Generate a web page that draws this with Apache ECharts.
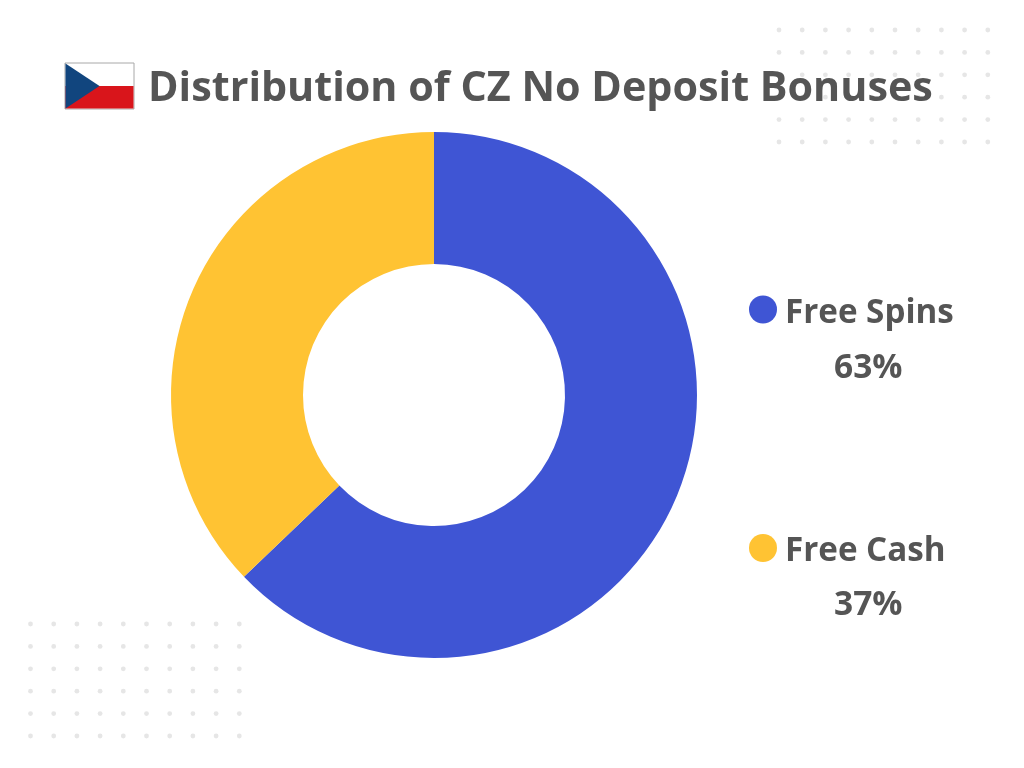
<!DOCTYPE html>
<html>
<head>
<meta charset="utf-8">
<style>html,body{margin:0;padding:0;background:#fff}#c{width:1024px;height:768px}</style>
<script src="https://cdn.jsdelivr.net/npm/echarts@6/dist/echarts.min.js"></script>
</head>
<body>
<div id="c"></div>
<script>
const titleText = 'Distribution of CZ No Deposit Bonuses';
const categories = ['Free Spins', 'Free Cash'];
const sliceValues = [62.85, 37.15];
const shareLabels = ['63%', '37%'];
const colors = ['#3f55d4', '#ffc333'];
const textColor = '#555555';
const font = '"Open Sans", sans-serif';

const chart = echarts.init(document.getElementById('c'), null, {renderer: 'canvas'});

function dotGrid(x0, y0) {
  const out = [];
  for (let r = 0; r < 6; r++) for (let c = 0; c < 10; c++) {
    out.push({type: 'circle', silent: true, z: -1,
      shape: {cx: x0 + c * 23.2, cy: y0 + r * 22.4, r: 2.4},
      style: {fill: '#e6e6e6'}});
  }
  return out;
}

const flag = [
  {type: 'rect', shape: {x: 65, y: 63, width: 69, height: 46}, style: {fill: '#ffffff', stroke: '#a8a8a8', lineWidth: 1}},
  {type: 'rect', shape: {x: 65.5, y: 86, width: 68, height: 22.5}, style: {fill: '#d9151b'}},
  {type: 'polygon', shape: {points: [[65.5, 63.5], [99.5, 86], [65.5, 108.5]]}, style: {fill: '#11457e'}}
];

const pctLabels = shareLabels.map((v, i) => ({
  type: 'text', left: 834, top: i === 0 ? 351 : 588,
  style: {text: v, fill: textColor, font: 'bold 33.5px ' + font}
}));

chart.setOption({
  animation: false,
  backgroundColor: '#ffffff',
  title: {
    text: titleText, left: 143, top: 64,
    textStyle: {fontFamily: font, fontWeight: 'bold', fontSize: 41.3, color: textColor}
  },
  legend: {
    orient: 'vertical', left: 749, top: 295.5,
    data: categories, icon: 'circle',
    itemWidth: 28, itemHeight: 28, itemGap: 204, padding: 0,
    selectedMode: false,
    formatter: '{a|{name}}',
    textStyle: {
      rich: {a: {fontFamily: font, fontWeight: 'bold', fontSize: 33.2, color: textColor, padding: [8, 0, 0, 3]}}
    }
  },
  series: [{
    type: 'pie',
    center: [434, 395], radius: [131, 263],
    startAngle: 90, clockwise: true,
    label: {show: false}, labelLine: {show: false},
    silent: true,
    data: categories.map((n, i) => ({name: n, value: sliceValues[i], itemStyle: {color: colors[i]}}))
  }],
  graphic: [...dotGrid(779, 30), ...dotGrid(30.5, 624), ...flag, ...pctLabels]
});
</script>
</body>
</html>
